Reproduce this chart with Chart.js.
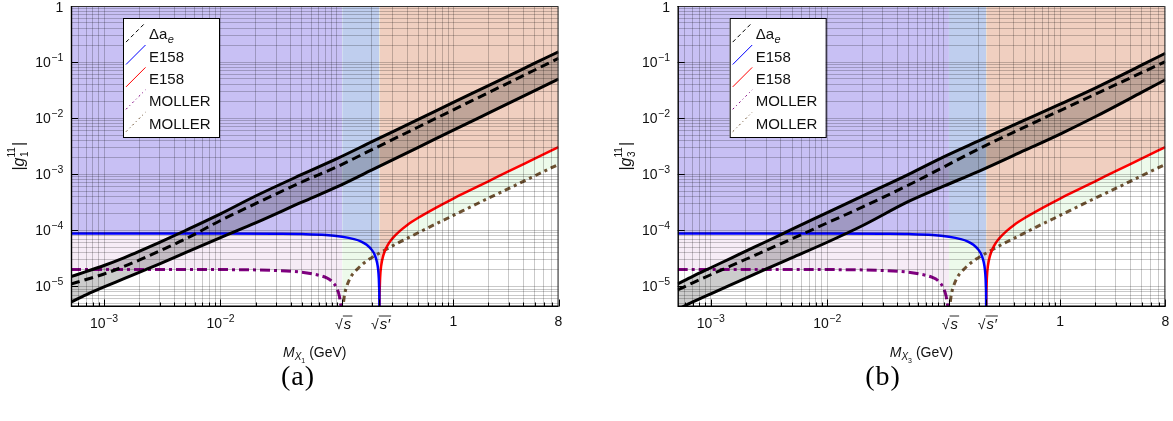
<!DOCTYPE html>
<html><head><meta charset="utf-8">
<script src="https://cdn.jsdelivr.net/npm/chart.js@4.4.1/dist/chart.umd.min.js"></script>
<style>
html,body{margin:0;padding:0;background:#fff;width:1173px;height:421px;overflow:hidden;}
#wrap{position:relative;width:1173px;height:421px;}
canvas{position:absolute;top:0;}
.cap{position:absolute;font-family:"Liberation Serif","DejaVu Serif",serif;font-size:28px;letter-spacing:1px;line-height:30px;top:361px;transform:translateX(-50%);color:#000;}
</style></head><body>
<div id="wrap">
<canvas id="ca" width="586" height="421" style="left:0"></canvas>
<canvas id="cb" width="587" height="421" style="left:586px"></canvas>
<div class="cap" style="left:298px">(a)</div>
<div class="cap" style="left:883px">(b)</div>
</div>
<script>
// ---------- axis ranges & ticks ----------
const X_MIN = 5.2e-4, X_MAX = 8, Y_MIN = 4.4e-6, Y_MAX = 1;
const SQRT_S = 0.111, SQRT_SP = 0.2319;
const X_MAJOR_TICKS = [1e-3, 1e-2, 0.111, 0.2319, 1, 8];
// label = [base, exponent]
const X_MAJOR_LABELS = [['10', '\u22123'], ['10', '\u22122'], ['\u221As', ''], ['\u221As\u2032', ''], ['1', ''], ['8', '']];
const X_MINOR_TICKS = [6e-4,7e-4,8e-4,9e-4,2e-3,3e-3,4e-3,5e-3,6e-3,7e-3,8e-3,9e-3,
  0.02,0.03,0.04,0.05,0.06,0.07,0.08,0.09,0.1,0.2,0.3,0.4,0.5,0.6,0.7,0.8,0.9,2,3,4,5,6,7];
const Y_MAJOR_TICKS = [1, 0.1, 0.01, 1e-3, 1e-4, 1e-5];
const Y_MAJOR_LABELS = [['1', ''], ['10', '\u22121'], ['10', '\u22122'], ['10', '\u22123'], ['10', '\u22124'], ['10', '\u22125']];
const Y_MINOR_TICKS = [0.9,0.8,0.7,0.6,0.5,0.4,0.3,0.2,0.09,0.08,0.07,0.06,0.05,0.04,0.03,0.02,
  9e-3,8e-3,7e-3,6e-3,5e-3,4e-3,3e-3,2e-3,9e-4,8e-4,7e-4,6e-4,5e-4,4e-4,3e-4,2e-4,
  9e-5,8e-5,7e-5,6e-5,5e-5,4e-5,3e-5,2e-5,9e-6,8e-6,7e-6,6e-6,5e-6];

// ---------- Δa_e band ----------
const X_BAND = [5.2e-4, 7e-4, 1e-3, 1.5e-3, 2e-3, 3e-3, 5e-3, 0.01, 0.02, 0.05, 0.1, 0.2, 0.5, 1, 2, 5, 8];
const A_UPPER  = [1.50e-5, 1.84e-5, 2.37e-5, 3.28e-5, 4.22e-5, 6.12e-5, 9.96e-5, 1.97e-4, 4.1e-4, 9.93e-4, 1.9e-3, 3.81e-3, 9.52e-3, 0.0191, 0.0381, 0.0955, 0.153];
const A_CENTER = [1.11e-5, 1.33e-5, 1.67e-5, 2.3e-5, 2.95e-5, 4.3e-5, 7.03e-5, 1.5e-4, 3.0e-4, 7.29e-4, 1.36e-3, 2.75e-3, 6.97e-3, 0.0141, 0.0285, 0.0723, 0.117];
const A_LOWER  = [5.3e-6, 7.1e-6, 9.8e-6, 1.39e-5, 1.79e-5, 2.54e-5, 4.02e-5, 7.47e-5, 1.36e-4, 3.18e-4, 5.96e-4, 1.2e-3, 3.03e-3, 6.11e-3, 0.0123, 0.031, 0.05];
const B_UPPER  = [1.11e-5, 1.52e-5, 2.16e-5, 3.21e-5, 4.26e-5, 6.34e-5, 1.05e-4, 2.07e-4, 4.09e-4, 1.0e-3, 2.05e-3, 3.95e-3, 9.3e-3, 0.0178, 0.0345, 0.088, 0.144];
const B_CENTER = [8.7e-6, 1.16e-5, 1.62e-5, 2.35e-5, 3.06e-5, 4.45e-5, 7.1e-5, 1.36e-4, 2.6e-4, 6.44e-4, 1.35e-3, 2.84e-3, 7.0e-3, 0.0137, 0.0267, 0.0647, 0.102];
const B_LOWER  = [3.9e-6, 5.3e-6, 7.4e-6, 1.08e-5, 1.41e-5, 2.06e-5, 3.27e-5, 6.15e-5, 1.21e-4, 3.28e-4, 6.15e-4, 1.13e-3, 2.69e-3, 5.22e-3, 0.0106, 0.0288, 0.0484];

// ---------- E158 / MOLLER bounds (same in both panels) ----------
const X_E158_LOW = [5.2e-4, 0.01, 0.03, 0.05, 0.08, 0.111, 0.14, 0.16, 0.18, 0.2, 0.21, 0.22, 0.226, 0.229, 0.2305, 0.2315, 0.2319];
const E158_LOW   = [8.8e-5, 8.8e-5, 8.7e-5, 8.6e-5, 8.3e-5, 7.7e-5, 7.0e-5, 6.4e-5, 5.55e-5, 4.45e-5, 3.75e-5, 2.8e-5, 2.0e-5, 1.39e-5, 9.7e-6, 5.2e-6, 1e-7];
const X_E158_HIGH = [0.2319, 0.2323, 0.233, 0.235, 0.24, 0.25, 0.27, 0.3, 0.35, 0.4, 0.5, 0.7, 1, 1.5, 2, 3, 5, 8];
const E158_HIGH   = [1e-7, 5.1e-6, 8.6e-6, 1.44e-5, 2.35e-5, 3.55e-5, 5.25e-5, 7.2e-5, 9.9e-5, 1.24e-4, 1.68e-4, 2.5e-4, 3.7e-4, 5.6e-4, 7.5e-4, 1.14e-3, 1.9e-3, 3.05e-3];
const X_MOLLER_LOW = [5.2e-4, 0.01, 0.03, 0.05, 0.065, 0.08, 0.09, 0.1, 0.105, 0.108, 0.11, 0.111];
const MOLLER_LOW   = [2.0e-5, 2.0e-5, 1.93e-5, 1.8e-5, 1.64e-5, 1.45e-5, 1.25e-5, 9.2e-6, 6.7e-6, 4.7e-6, 2.7e-6, 1e-8];
const X_MOLLER_HIGH = [0.111, 0.1118, 0.113, 0.116, 0.12, 0.13, 0.15, 0.18, 0.22, 0.3, 0.4, 0.6, 1, 1.5, 2, 3, 5, 8];
const MOLLER_HIGH   = [1e-8, 2.5e-6, 4.5e-6, 7e-6, 9.3e-6, 1.42e-5, 2.05e-5, 2.85e-5, 3.7e-5, 5.3e-5, 7.2e-5, 1.1e-4, 1.85e-4, 2.8e-4, 3.75e-4, 5.6e-4, 9.4e-4, 1.5e-3];

// ---------- legend ----------
const LEGEND_LABELS = ['\u0394a', 'E158', 'E158', 'MOLLER', 'MOLLER'];
const LEGEND_STYLE = [
  {color:'#000000', dash:[4,3], sub:'e'},
  {color:'#0000ff', dash:[]},
  {color:'#ff0000', dash:[]},
  {color:'#800080', dash:[2,3,1,3]},
  {color:'#6e5232', dash:[2,3,1,3]}
];

const FONT = '"Liberation Sans", Arial, Helvetica, sans-serif';
const GRID = 'rgba(0,0,0,0.21)';

const pts = (xs, ys) => xs.map((x, i) => ({x: x, y: ys[i]}));
const near = (a, b) => Math.abs(a - b) / b < 1e-6;

function lineDs(label, data, color, width, dash) {
  return {label, data, borderColor: color, borderWidth: width, borderDash: dash || [],
    pointRadius: 0, fill: false, backgroundColor: 'transparent', cubicInterpolationMode: 'monotone'};
}
function regionDs(data, color) {
  return {label: '', data, borderColor: 'transparent', borderWidth: 0, pointRadius: 0,
    fill: 'end', backgroundColor: color, cubicInterpolationMode: 'monotone'};
}

// draw "base^exp" ; align: 'center' | 'right'
function drawPow(ctx, base, exp, x, y, align) {
  ctx.textAlign = 'left'; ctx.textBaseline = 'alphabetic';
  ctx.font = '14px ' + FONT; const wb = ctx.measureText(base).width;
  ctx.font = '10.5px ' + FONT; const we = exp ? ctx.measureText(exp).width + 0.5 : 0;
  const tw = wb + we;
  let x0 = align === 'right' ? x - tw : x - tw / 2;
  ctx.font = '14px ' + FONT; ctx.fillText(base, x0, y);
  if (exp) { ctx.font = '10.5px ' + FONT; ctx.fillText(exp, x0 + wb + 0.5, y - 6); }
}

function makeChart(id, plotLeft, plotRight, W, upper, center, lower, subIdx) {
  const blue = pts(X_E158_LOW, E158_LOW);
  const red = pts(X_E158_HIGH, E158_HIGH);
  const purple = pts(X_MOLLER_LOW, MOLLER_LOW);
  const brown = pts(X_MOLLER_HIGH, MOLLER_HIGH);
  const datasets = [
    lineDs('\u0394a_e upper', pts(X_BAND, upper), '#000', 3, []),
    lineDs('\u0394a_e', pts(X_BAND, center), '#000', 3, [9, 5]),
    Object.assign(lineDs('\u0394a_e lower', pts(X_BAND, lower), '#000', 3, []), {fill: '-2', backgroundColor: 'rgba(0,0,0,0.2)'}),
    lineDs('E158', blue, '#0000ff', 2.5, []),
    lineDs('E158', red, '#ff0000', 2.5, []),
    lineDs('MOLLER', purple, '#800080', 3, [10, 4, 3, 4]),
    lineDs('MOLLER', brown, '#6e5232', 3, [6, 4, 3, 4]),
    regionDs(red, 'rgb(240,207,192)'),
    regionDs(blue.filter(p => p.x >= SQRT_S - 1e-9), 'rgb(191,206,238)'),
    regionDs(blue.filter(p => p.x <= SQRT_S + 1e-9), 'rgb(200,192,244)'),
    regionDs(brown, 'rgb(237,250,235)'),
    regionDs(purple, 'rgb(246,236,246)')
  ];

  const decor = {
    id: 'decor',
    afterDraw(chart) {
      const {ctx, chartArea: a, scales: {x, y}} = chart;
      ctx.save();
      // inward ticks
      ctx.strokeStyle = '#000'; ctx.lineWidth = 1;
      const vt = (v, len) => { const px = Math.round(x.getPixelForValue(v)) + 0.5; ctx.beginPath(); ctx.moveTo(px, a.bottom); ctx.lineTo(px, a.bottom - len); ctx.stroke(); };
      X_MINOR_TICKS.forEach(v => vt(v, 4));
      X_MAJOR_TICKS.forEach(v => vt(v, 7));
      Y_MAJOR_TICKS.forEach(v => { const py = Math.round(y.getPixelForValue(v)) + 0.5; ctx.beginPath(); ctx.moveTo(a.left, py); ctx.lineTo(a.left + 7, py); ctx.stroke(); });
      // frame
      ctx.strokeStyle = '#333'; ctx.lineWidth = 1;
      ctx.beginPath(); ctx.moveTo(a.left, a.top + 0.5); ctx.lineTo(a.right - 0.5, a.top + 0.5); ctx.lineTo(a.right - 0.5, a.bottom); ctx.stroke();
      ctx.strokeStyle = '#000'; ctx.lineWidth = 1.4;
      ctx.beginPath(); ctx.moveTo(a.left + 0.5, a.top); ctx.lineTo(a.left + 0.5, a.bottom - 0.2); ctx.lineTo(a.right, a.bottom - 0.2); ctx.stroke();
      // tick labels
      ctx.fillStyle = '#111';
      X_MAJOR_TICKS.forEach((v, i) => {
        const lab = X_MAJOR_LABELS[i];
        const px = x.getPixelForValue(v);
        if (lab[0].charAt(0) === '\u221A') {
          ctx.font = '14px ' + FONT; ctx.textAlign = 'center'; ctx.textBaseline = 'alphabetic';
          const w = ctx.measureText(lab[0]).width;
          ctx.fillText('\u221A', px - w / 2 + 4, a.bottom + 22);
          ctx.font = 'italic 15px ' + FONT; ctx.textAlign = 'left';
          ctx.fillText(lab[0].slice(1), px - w / 2 + 9, a.bottom + 22);
          ctx.strokeStyle = '#111'; ctx.lineWidth = 0.9;
          ctx.beginPath(); ctx.moveTo(px - w / 2 + 8, a.bottom + 9.5); ctx.lineTo(px - w / 2 + 9 + ctx.measureText(lab[0].slice(1)).width + 1, a.bottom + 9.5); ctx.stroke();
        } else {
          drawPow(ctx, lab[0], lab[1], px, a.bottom + (lab[1] ? 21.5 : 19), 'center');
        }
      });
      Y_MAJOR_TICKS.forEach((v, i) => {
        const lab = Y_MAJOR_LABELS[i];
        const py = y.getPixelForValue(v);
        drawPow(ctx, lab[0], lab[1], a.left - 7.7, py + (lab[1] ? 4.8 : 5.6), 'right');
      });
      // legend
      const lx = a.left + 52, ly = 18, lw = 96, lh = 119;
      ctx.fillStyle = '#fff'; ctx.fillRect(lx, ly, lw, lh);
      ctx.strokeStyle = '#000'; ctx.lineWidth = 1; ctx.strokeRect(lx + 0.5, ly + 0.5, lw, lh);
      LEGEND_LABELS.forEach((lab, i) => {
        const st = LEGEND_STYLE[i];
        const cy = ly + 15.6 + i * 22.4;
        ctx.strokeStyle = st.color; ctx.lineWidth = 1; ctx.setLineDash(st.dash);
        ctx.beginPath(); ctx.moveTo(lx + 3, cy + 8.5); ctx.lineTo(lx + 22.5, cy - 11); ctx.stroke();
        ctx.setLineDash([]);
        ctx.fillStyle = '#111'; ctx.font = '15px ' + FONT; ctx.textBaseline = 'alphabetic'; ctx.textAlign = 'left';
        ctx.fillText(lab, lx + 26, cy + 5.5);
        if (st.sub) {
          const w = ctx.measureText(lab).width;
          ctx.font = 'italic 11px ' + FONT;
          ctx.fillText(st.sub, lx + 26 + w + 0.5, cy + 9);
        }
      });
      // x axis title: M_{X_n} (GeV)
      ctx.fillStyle = '#111'; ctx.textAlign = 'left'; ctx.textBaseline = 'alphabetic';
      const parts = [
        {t: 'M', f: 'italic 14px ' + FONT, dy: 0},
        {t: 'X', f: 'italic 10px ' + FONT, dy: 3},
        {t: String(subIdx), f: '7px ' + FONT, dy: 6},
        {t: ' (GeV)', f: '14px ' + FONT, dy: 0}
      ];
      let tw = 0; parts.forEach(p => { ctx.font = p.f; p.w = ctx.measureText(p.t).width; tw += p.w; });
      let cx = (a.left + a.right) / 2 - tw / 2;
      parts.forEach(p => { ctx.font = p.f; ctx.fillText(p.t, cx, 357 + p.dy); cx += p.w; });
      // y axis title: |g_n^{11}|
      ctx.save();
      ctx.translate(a.left - 47, (a.top + a.bottom) / 2);
      ctx.rotate(-Math.PI / 2);
      const yp = [
        {t: '|', f: '16px ' + FONT},
        {t: 'g', f: 'italic 16px ' + FONT}
      ];
      let w1 = 0; yp.forEach(p => { ctx.font = p.f; p.w = ctx.measureText(p.t).width; w1 += p.w; });
      ctx.font = '10px ' + FONT; const wsup = ctx.measureText('11').width; const wsub = ctx.measureText(String(subIdx)).width;
      ctx.font = '16px ' + FONT; const wbar = ctx.measureText('|').width;
      const total = w1 + Math.max(wsup, wsub) + 1 + wbar;
      let px = -total / 2;
      yp.forEach(p => { ctx.font = p.f; ctx.fillText(p.t, px, 0); px += p.w; });
      ctx.font = '10px ' + FONT;
      ctx.fillText(String(subIdx), px + 0.5, 4);
      ctx.fillText('11', px, -9);
      px += Math.max(wsup, wsub) + 1;
      ctx.font = '16px ' + FONT; ctx.fillText('|', px, 0);
      ctx.restore();
      ctx.restore();
    }
  };

  const H = 421, BOTTOM = 306.5;
  return new Chart(document.getElementById(id), {
    type: 'line',
    data: {datasets},
    plugins: [decor],
    options: {
      responsive: false, animation: false, events: [],
      layout: {padding: {left: 0, right: W - plotRight, top: 6, bottom: 0}},
      plugins: {legend: {display: false}, tooltip: {enabled: false}, filler: {drawTime: 'beforeDatasetsDraw'}},
      scales: {
        x: {
          type: 'logarithmic', min: X_MIN, max: X_MAX, position: 'bottom',
          afterBuildTicks: s => { s.ticks = X_MINOR_TICKS.concat(X_MAJOR_TICKS).sort((p, q) => p - q).map(v => ({value: v})); },
          afterFit: s => { s.height = H - BOTTOM; s.paddingLeft = 0; s.paddingRight = 0; },
          grid: {z: 1, drawTicks: false, color: c => (c.tick && (near(c.tick.value, SQRT_S) || near(c.tick.value, SQRT_SP))) ? 'transparent' : GRID, lineWidth: 1},
          border: {display: false},
          ticks: {display: false, autoSkip: false, maxRotation: 0, minRotation: 0}
        },
        y: {
          type: 'logarithmic', min: Y_MIN, max: Y_MAX, position: 'left',
          afterBuildTicks: s => { s.ticks = Y_MINOR_TICKS.concat(Y_MAJOR_TICKS).sort((p, q) => p - q).map(v => ({value: v})); },
          afterFit: s => { s.width = plotLeft; s.paddingTop = 0; s.paddingBottom = 0; },
          grid: {z: 1, drawTicks: false, color: GRID, lineWidth: 1},
          border: {display: false},
          ticks: {display: false, autoSkip: false}
        }
      }
    }
  });
}

makeChart('ca', 71, 558.5, 586, A_UPPER, A_CENTER, A_LOWER, 1);
makeChart('cb', 91.7, 579.3, 587, B_UPPER, B_CENTER, B_LOWER, 3);
</script>
</body></html>
